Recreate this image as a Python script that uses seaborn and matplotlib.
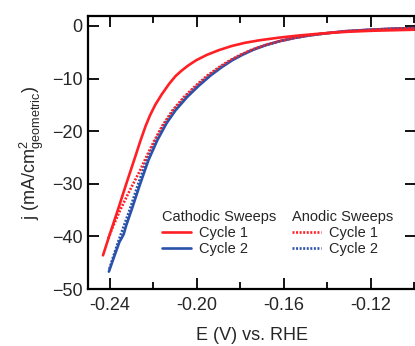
import matplotlib
matplotlib.use("Agg")
import matplotlib.pyplot as plt
from matplotlib.lines import Line2D
from matplotlib.ticker import MultipleLocator
import pandas as pd
import seaborn as sns

# Polarisation curves: potential E (V vs. RHE) and current density j (mA/cm^2)
cath1_E = [-0.2432, -0.2404, -0.2364, -0.2325, -0.2285, -0.2259, -0.2236, -0.2216,
           -0.2192, -0.2162, -0.2128, -0.2098, -0.2071, -0.2040, -0.2003, -0.1955,
           -0.1900, -0.1840, -0.1780, -0.1710, -0.1620, -0.1530, -0.1420, -0.1310,
           -0.1190, -0.0995]
cath1_j = [-43.6, -40.0, -35.0, -30.0, -25.0, -21.7, -19.0, -17.0,
           -15.0, -13.0, -11.0, -9.5, -8.5, -7.5, -6.5, -5.5,
           -4.6, -3.8, -3.2, -2.7, -2.2, -1.8, -1.4, -1.1,
           -0.9, -0.7]

cath2_E = [-0.2405, -0.2382, -0.2356, -0.2350, -0.2337, -0.2326, -0.2301, -0.2261,
           -0.2223, -0.2182, -0.2140, -0.2098, -0.2045, -0.1990, -0.1937, -0.1885,
           -0.1837, -0.1792, -0.1740, -0.1680, -0.1620, -0.1555, -0.1485, -0.1410,
           -0.1320, -0.1200, -0.1090, -0.0995]
cath2_j = [-46.7, -44.0, -41.0, -40.6, -39.6, -38.0, -35.0, -30.0,
           -25.5, -21.7, -18.5, -16.0, -13.5, -11.3, -9.4, -7.8,
           -6.5, -5.5, -4.5, -3.6, -2.9, -2.3, -1.8, -1.4,
           -1.0, -0.7, -0.5, -0.4]

anod1_E = [-0.2408, -0.2385, -0.2353, -0.2318, -0.2292, -0.2262, -0.2240, -0.2217,
           -0.2195, -0.2160, -0.2112, -0.2060, -0.2005, -0.1952, -0.1898, -0.1848,
           -0.1802, -0.1748, -0.1686, -0.1624, -0.1558, -0.1487, -0.1410, -0.1320,
           -0.1200, -0.1090, -0.0995]
anod1_j = [-40.4, -38.0, -35.0, -32.0, -29.9, -27.5, -25.5, -23.5,
           -21.7, -19.0, -16.0, -13.5, -11.3, -9.4, -7.8, -6.5,
           -5.5, -4.5, -3.6, -2.9, -2.3, -1.8, -1.4, -1.0,
           -0.7, -0.5, -0.4]

anod2_E = [-0.2403, -0.2386, -0.2362, -0.2336, -0.2310, -0.2270, -0.2232, -0.2191,
           -0.2149, -0.2107, -0.2054, -0.1999, -0.1945, -0.1892, -0.1843, -0.1797,
           -0.1744, -0.1683, -0.1622, -0.1556, -0.1486, -0.1410, -0.1320, -0.1200,
           -0.1090, -0.0995]
anod2_j = [-46.2, -44.0, -41.0, -38.0, -35.0, -30.0, -25.5, -21.7,
           -18.5, -16.0, -13.5, -11.3, -9.4, -7.8, -6.5, -5.5,
           -4.5, -3.6, -2.9, -2.3, -1.8, -1.4, -1.0, -0.7,
           -0.5, -0.4]

x_ticks = [-0.24, -0.20, -0.16, -0.12]
x_tick_labels = ["-0.24", "-0.20", "-0.16", "-0.12"]
y_ticks = [0, -10, -20, -30, -40, -50]

RED = "#ff1f24"
BLUE = "#2b52aa"

sns.set_style("ticks")
plt.rcParams["font.family"] = ["Liberation Sans", "DejaVu Sans"]
plt.rcParams["mathtext.fontset"] = "custom"
plt.rcParams["mathtext.rm"] = "Liberation Sans"
plt.rcParams["mathtext.it"] = "Liberation Sans"
plt.rcParams["mathtext.default"] = "regular"

fig = plt.figure(figsize=(4.15, 3.46), dpi=100)
ax = fig.add_axes([88 / 415, 1 - 289 / 346, 328 / 415, 273 / 346])

DOT = (0, (0.75, 0.6))
LW = 1.9

def frame(E, j):
    return pd.DataFrame({"E": E, "j": j})

sns.lineplot(data=frame(cath2_E, cath2_j), x="E", y="j", ax=ax, color=BLUE,
             lw=LW, sort=False, estimator=None)
sns.lineplot(data=frame(anod2_E, anod2_j), x="E", y="j", ax=ax, color=BLUE,
             lw=LW, linestyle=DOT, sort=False, estimator=None)
sns.lineplot(data=frame(anod1_E, anod1_j), x="E", y="j", ax=ax, color=RED,
             lw=LW, linestyle=DOT, sort=False, estimator=None)
sns.lineplot(data=frame(cath1_E, cath1_j), x="E", y="j", ax=ax, color=RED,
             lw=LW, sort=False, estimator=None)

ax.set_xlim(-0.2501, -0.0993)
ax.set_ylim(-50, 1.9)
ax.set_xticks(x_ticks)
ax.set_xticklabels(x_tick_labels)
ax.xaxis.set_minor_locator(MultipleLocator(0.02))
ax.set_yticks(y_ticks)

for side in ["left", "right", "top", "bottom"]:
    ax.spines[side].set_visible(True)
    ax.spines[side].set_linewidth(1.6)
    ax.spines[side].set_color("black")

ax.tick_params(axis="both", which="major", direction="in", length=8, width=1.3,
               labelsize=13, top=True, right=True, color="black")
ax.tick_params(axis="x", which="major", pad=6)
ax.tick_params(axis="y", which="major", pad=4)
ax.tick_params(axis="x", which="minor", direction="in", length=5, width=1.3,
               top=True, color="black")

ax.set_xlabel("E (V) vs. RHE", fontsize=13, labelpad=9)
ax.set_ylabel(r"j (mA/cm$^{2}_{\mathrm{geometric}}$)", fontsize=13, labelpad=4)

leg_kw = dict(frameon=False, fontsize=10.5, title_fontsize=10.5, alignment="left",
              handlelength=2.0, handletextpad=0.55, borderpad=0.0,
              labelspacing=0.15, borderaxespad=0.0, loc="upper left",
              bbox_transform=fig.transFigure)

h_cath = [Line2D([], [], color=RED, lw=LW), Line2D([], [], color=BLUE, lw=LW)]
h_anod = [Line2D([], [], color=RED, lw=LW, linestyle=DOT),
          Line2D([], [], color=BLUE, lw=LW, linestyle=DOT)]

leg1 = ax.legend(h_cath, ["Cycle 1", "Cycle 2"], title="Cathodic Sweeps",
                 bbox_to_anchor=(162 / 415, 1 - 210 / 346), **leg_kw)
ax.add_artist(leg1)
leg2 = ax.legend(h_anod, ["Cycle 1", "Cycle 2"], title="Anodic Sweeps",
                 bbox_to_anchor=(292 / 415, 1 - 210 / 346), **leg_kw)

fig.savefig("out.png", dpi=100)
